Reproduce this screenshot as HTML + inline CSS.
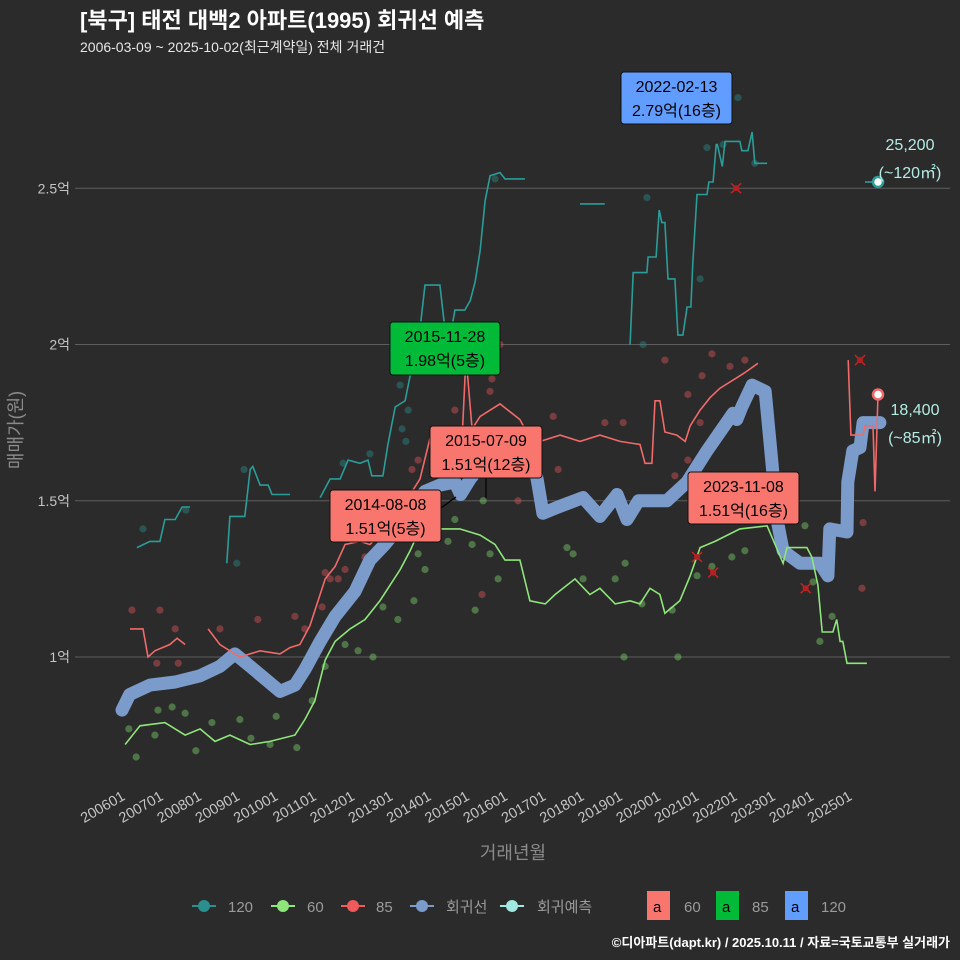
<!DOCTYPE html>
<html><head><meta charset="utf-8">
<style>
html,body{margin:0;padding:0;background:#2b2b2b;}
svg{display:block;font-family:"Liberation Sans","Noto Sans CJK KR",sans-serif;}
</style></head>
<body>
<svg id="chart" width="960" height="960" viewBox="0 0 960 960">
<rect width="960" height="960" fill="#2b2b2b"/>
<text x="80" y="28" font-size="22" font-weight="bold" fill="#ffffff">[북구] 태전 대백2 아파트(1995) 회귀선 예측</text>
<text x="80" y="52" font-size="14" fill="#e6e6e6">2006-03-09 ~ 2025-10-02(최근계약일) 전체 거래건</text>
<g id="grid"></g>
<g id="yticks"></g>
<g id="xticks"></g>
<text x="0" y="0" transform="translate(22,430) rotate(-90)" text-anchor="middle" font-size="18" fill="#8a8a8a">매매가(원)</text>
<text x="513" y="859" text-anchor="middle" font-size="18" fill="#8a8a8a">거래년월</text>
<g id="marks"></g>
<g id="annos"></g>
<g font-size="15" fill="#9a9a9a">
  <g><line x1="192" y1="906" x2="216" y2="906" stroke="#2a8f8f" stroke-width="2"/><circle cx="204" cy="906" r="6" fill="#2a8f8f"/><text x="228" y="912">120</text></g>
  <g><line x1="271" y1="906" x2="295" y2="906" stroke="#8ee67a" stroke-width="2"/><circle cx="283" cy="906" r="6" fill="#8ee67a"/><text x="307" y="912">60</text></g>
  <g><line x1="341" y1="906" x2="365" y2="906" stroke="#f05a5a" stroke-width="2"/><circle cx="353" cy="906" r="6" fill="#f05a5a"/><text x="376" y="912">85</text></g>
  <g><line x1="410" y1="906" x2="434" y2="906" stroke="#7b9bcb" stroke-width="2"/><circle cx="422" cy="906" r="6" fill="#7b9bcb"/><text x="446" y="912">회귀선</text></g>
  <g><line x1="500" y1="906" x2="524" y2="906" stroke="#a0e8e0" stroke-width="2"/><circle cx="512" cy="906" r="6" fill="#a0e8e0"/><text x="537" y="912">회귀예측</text></g>
  <g><rect x="647" y="891" width="23" height="29" fill="#f8766d"/><text x="653" y="912" fill="#000">a</text><text x="684" y="912">60</text></g>
  <g><rect x="716" y="891" width="23" height="29" fill="#00ba38"/><text x="722" y="912" fill="#000">a</text><text x="752" y="912">85</text></g>
  <g><rect x="785" y="891" width="23" height="29" fill="#619cff"/><text x="791" y="912" fill="#000">a</text><text x="821" y="912">120</text></g>
</g>
<text x="950" y="947" text-anchor="end" font-size="13" font-weight="bold" fill="#ffffff">©디아파트(dapt.kr) / 2025.10.11 / 자료=국토교통부 실거래가</text>
</svg>
<script>
const yTicks = [1, 1.5, 2, 2.5];
const yTickLabels = ["1억", "1.5억", "2억", "2.5억"];
const xTickYears = [2006,2007,2008,2009,2010,2011,2012,2013,2014,2015,2016,2017,2018,2019,2020,2021,2022,2023,2024,2025];
const xTickLabels = xTickYears.map(y => y + "01");

const regression = [[2006,0.83],[2006.2,0.88],[2006.73,0.91],[2007.39,0.92],[2008.04,0.94],[2008.56,0.97],[2008.95,1.01],[2009.35,0.97],[2009.74,0.93],[2010.13,0.89],[2010.52,0.91],[2010.78,0.96],[2011.18,1.05],[2011.57,1.13],[2012.09,1.21],[2012.48,1.31],[2012.87,1.36],[2013.27,1.42],[2013.66,1.49],[2013.92,1.53],[2014.31,1.55],[2014.7,1.56],[2014.85,1.52],[2015.1,1.57],[2015.36,1.61],[2015.88,1.65],[2016.4,1.63],[2016.79,1.6],[2016.85,1.57],[2017.0,1.46],[2017.4,1.48],[2018.05,1.51],[2018.49,1.45],[2018.94,1.52],[2019.2,1.44],[2019.5,1.5],[2019.8,1.50],[2020.24,1.50],[2020.77,1.56],[2021.29,1.66],[2021.97,1.78],[2022.07,1.76],[2022.2,1.80],[2022.47,1.87],[2022.81,1.85],[2022.99,1.62],[2023.12,1.44],[2023.28,1.34],[2023.72,1.30],[2024.24,1.30],[2024.45,1.26],[2024.5,1.41],[2024.95,1.40],[2024.97,1.56],[2025.1,1.66],[2025.29,1.67],[2025.37,1.75],[2025.81,1.75]];

const line60 = [[[2006.08,0.72],[2006.47,0.78],[2007.12,0.79],[2007.65,0.75],[2008.04,0.77],[2008.43,0.73],[2008.82,0.75],[2009.35,0.72],[2009.87,0.73],[2010.52,0.75],[2010.78,0.8],[2011.04,0.86],[2011.31,0.99],[2011.57,1.05],[2011.96,1.09],[2012.35,1.12],[2012.74,1.18],[2013.27,1.28],[2013.53,1.34],[2013.79,1.41],[2013.92,1.42],[2014.31,1.41],[2014.83,1.41],[2015.36,1.39],[2015.75,1.36],[2016.01,1.31],[2016.4,1.31],[2016.66,1.18],[2017.06,1.17],[2017.32,1.2],[2017.84,1.25],[2018.23,1.2],[2018.49,1.22],[2018.89,1.17],[2019.28,1.18],[2019.54,1.17],[2019.8,1.22],[2020.06,1.2],[2020.19,1.14],[2020.58,1.18],[2020.85,1.26],[2021.11,1.35],[2021.5,1.37],[2022.15,1.41],[2022.86,1.42],[2023.28,1.30],[2023.38,1.35],[2023.9,1.35],[2024.03,1.32],[2024.19,1.23],[2024.3,1.08],[2024.58,1.08],[2024.68,1.12],[2024.77,1.05],[2024.84,1.05],[2024.95,0.98],[2025.47,0.98]]];

const line85 = [
 [[2006.21,1.09],[2006.55,1.09],[2006.68,1.0],[2006.86,1.02],[2007.25,1.04],[2007.44,1.06],[2007.65,1.04]],
 [[2008.25,1.09],[2008.56,1.04],[2009.08,1.0],[2009.61,1.02],[2010.13,1.01],[2010.39,1.03],[2010.65,1.04],[2010.91,1.1],[2011.31,1.25],[2011.57,1.29],[2011.83,1.36],[2012.22,1.37],[2012.48,1.36],[2012.74,1.39],[2013.27,1.47],[2013.53,1.52],[2013.79,1.57],[2014.05,1.7],[2014.89,1.7],[2014.99,1.96],[2015.15,1.73],[2015.36,1.77],[2015.88,1.81],[2016.4,1.76],[2016.53,1.73],[2016.93,1.69],[2017.45,1.71],[2017.97,1.69],[2018.49,1.71],[2019.02,1.69],[2019.54,1.68],[2019.67,1.62],[2019.85,1.62],[2019.93,1.82],[2020.06,1.82],[2020.19,1.72],[2020.5,1.71],[2020.72,1.69],[2020.85,1.74],[2021.11,1.79],[2021.37,1.83],[2021.63,1.86],[2022.02,1.89],[2022.28,1.91],[2022.62,1.94]],
 [[2024.98,1.95],[2025.05,1.71],[2025.37,1.71],[2025.42,1.74],[2025.63,1.74],[2025.68,1.53],[2025.76,1.84]]
];

const line120 = [
 [[2006.39,1.35],[2006.73,1.37],[2006.99,1.37],[2007.12,1.44],[2007.39,1.44],[2007.57,1.48],[2007.78,1.48]],
 [[2008.74,1.3],[2008.82,1.45],[2009.21,1.45],[2009.35,1.6],[2009.42,1.61],[2009.61,1.55],[2009.82,1.55],[2009.92,1.52],[2010.39,1.52]],
 [[2011.18,1.51],[2011.44,1.57],[2011.7,1.57],[2011.91,1.63],[2012.22,1.62],[2012.43,1.63],[2012.53,1.58],[2012.82,1.58],[2012.95,1.68],[2013.14,1.8],[2013.4,1.82],[2013.58,1.93],[2013.79,2.05],[2013.92,2.19],[2014.31,2.19],[2014.44,2.05],[2014.57,2.02],[2014.7,2.11],[2014.96,2.11],[2015.1,2.14],[2015.23,2.2],[2015.36,2.3],[2015.49,2.46],[2015.62,2.54],[2015.88,2.55],[2016.01,2.53],[2016.53,2.53]],
 [[2017.97,2.45],[2018.62,2.45]],
 [[2019.28,2.0],[2019.36,2.23],[2019.72,2.23],[2019.75,2.28],[2019.96,2.28],[2020.04,2.43],[2020.11,2.39],[2020.19,2.39],[2020.27,2.21],[2020.45,2.21],[2020.53,2.03],[2020.66,2.03],[2020.77,2.12],[2020.87,2.12],[2020.92,2.26],[2021.03,2.48],[2021.29,2.48],[2021.34,2.52],[2021.45,2.52],[2021.53,2.64],[2021.56,2.64],[2021.69,2.57],[2021.76,2.65],[2022.15,2.65],[2022.2,2.62],[2022.36,2.62],[2022.47,2.68],[2022.54,2.58],[2022.86,2.58]],
 [[2025.42,2.52],[2025.76,2.52]]
];

const dots60 = [[2006.18,0.77],[2006.37,0.68],[2006.86,0.75],[2006.94,0.83],[2007.31,0.84],[2007.65,0.82],[2007.93,0.7],[2008.35,0.79],[2009.08,0.8],[2009.37,0.74],[2009.87,0.72],[2010.03,0.81],[2010.57,0.71],[2010.97,0.86],[2011.31,0.97],[2011.83,1.04],[2012.17,1.02],[2012.56,1.0],[2012.82,1.16],[2013.21,1.12],[2013.63,1.18],[2013.74,1.33],[2013.92,1.28],[2014.52,1.37],[2014.7,1.44],[2015.15,1.36],[2015.23,1.15],[2015.44,1.5],[2015.62,1.33],[2015.83,1.25],[2017.63,1.35],[2017.79,1.33],[2018.05,1.25],[2018.89,1.25],[2019.15,1.3],[2019.59,1.17],[2019.12,1.0],[2020.53,1.0],[2020.38,1.15],[2021.03,1.26],[2021.42,1.29],[2021.94,1.32],[2022.28,1.34],[2023.51,1.45],[2023.85,1.42],[2024.06,1.24],[2024.56,1.13],[2024.3,1.28],[2024.24,1.05]];
const dots85 = [[2006.26,1.15],[2006.99,1.15],[2007.39,1.09],[2006.91,0.98],[2007.47,0.98],[2008.56,1.09],[2009.55,1.12],[2010.52,1.13],[2010.78,1.09],[2011.23,1.16],[2011.44,1.25],[2011.31,1.27],[2011.65,1.25],[2011.83,1.28],[2012.35,1.32],[2013.58,1.6],[2013.74,1.63],[2014.31,1.69],[2014.7,1.79],[2015.62,1.85],[2015.67,1.89],[2015.88,2.0],[2015.41,1.2],[2017.27,1.77],[2018.62,1.75],[2019.1,1.75],[2020.19,1.95],[2020.79,1.84],[2021.16,1.90],[2021.42,1.97],[2022.28,1.95],[2021.89,1.93],[2021.11,1.75],[2020.79,1.63],[2020.45,1.58],[2017.4,1.60],[2016.35,1.50],[2025.37,1.43],[2025.34,1.22]];
const dots120 = [[2006.55,1.41],[2007.67,1.47],[2009.0,1.3],[2009.19,1.6],[2011.78,1.62],[2012.48,1.65],[2013.42,1.69],[2013.27,1.87],[2013.48,1.79],[2013.32,1.73],[2015.17,2.01],[2015.75,2.53],[2019.72,2.47],[2021.11,2.21],[2021.29,2.63],[2021.71,2.64],[2022.1,2.79],[2019.62,2.0],[2022.54,2.58]];
const cancelled = [[2022.05,2.5],[2021.03,1.32],[2021.45,1.27],[2023.87,1.22],[2025.29,1.95]];

const X = yr => 122 + (yr - 2006) * 38.26;
const Y = v => 657 - (v - 1) * 312.5;
const NS = "http://www.w3.org/2000/svg";
function mk(tag, attrs, parent) {
  const e = document.createElementNS(NS, tag);
  for (const k in attrs) e.setAttribute(k, attrs[k]);
  parent.appendChild(e);
  return e;
}
const grid = document.getElementById("grid");
const yt = document.getElementById("yticks");
yTicks.forEach((v, i) => {
  const l = mk("line", {x1: 75, x2: 950, y1: Y(v), y2: Y(v), stroke: "#5e5e5e", "stroke-width": 1}, grid);
  
  
  const t = mk("text", {x: 70, y: Y(v) + 5, "text-anchor": "end", "font-size": 14, fill: "#c4c4c4"}, yt);
  t.textContent = yTickLabels[i];
  
  
});
const xt = document.getElementById("xticks");
xTickYears.forEach((yr, i) => {
  const t = mk("text", {x: 0, y: 0, "text-anchor": "end", "font-size": 14.5, fill: "#c4c4c4", transform: `translate(${X(yr) + 4},${799}) rotate(-30)`}, xt);
  t.textContent = xTickLabels[i];
  
  
});
const marks = document.getElementById("marks");
const pts = a => a.map(p => X(p[0]).toFixed(1) + "," + Y(p[1]).toFixed(1)).join(" ");
function drawDots(arr, color, name) {
  arr.forEach(p => {
    const c = mk("circle", {cx: X(p[0]), cy: Y(p[1]), r: 3.6, fill: color, "fill-opacity": 0.45}, marks);
    
    
  });
}
drawDots(dots60, "#7ccf6a", "dot-60");
drawDots(dots85, "#d9545a", "dot-85");
drawDots(dots120, "#2a8a86", "dot-120");
const reg = mk("polyline", {points: pts(regression), fill: "none", stroke: "#7b9bcb", "stroke-width": 13, "stroke-linejoin": "round", "stroke-linecap": "round"}, marks);


function drawLines(segs, color, name) {
  segs.forEach(s => {
    const l = mk("polyline", {points: pts(s), fill: "none", stroke: color, "stroke-width": 1.6}, marks);
    
    
  });
}
drawLines(line120, "#2a9d98", "line-120");
drawLines(line85, "#f06a6a", "line-85");
drawLines(line60, "#8ee67a", "line-60");
cancelled.forEach(p => {
  const g = mk("g", {}, marks);
  
  
  const x = X(p[0]), y = Y(p[1]);
  mk("path", {d: `M${x-5},${y-5}L${x+5},${y+5}M${x+5},${y-5}L${x-5},${y+5}`, stroke: "#cc2222", "stroke-width": 1.5}, g);
  mk("circle", {cx: x, cy: y, r: 3, fill: "#b22222"}, g);
});
const last120 = line120[line120.length-1];
const e1 = mk("circle", {cx: X(last120[last120.length-1][0]), cy: Y(last120[last120.length-1][1]), r: 5, fill: "#ffffff", stroke: "#2a9d98", "stroke-width": 2.5}, marks);


const last85 = line85[line85.length-1];
const e2 = mk("circle", {cx: X(last85[last85.length-1][0]), cy: Y(last85[last85.length-1][1]), r: 5, fill: "#ffffff", stroke: "#f06a6a", "stroke-width": 2.5}, marks);



const annos = document.getElementById("annos");
function box(x, y, w, h, fill, l1, l2, name) {
  const g = mk("g", {}, annos);
  
  
  mk("rect", {x, y, width: w, height: h, rx: 3, fill, stroke: "#111", "stroke-width": 1}, g);
  const t1 = mk("text", {x: x + w/2, y: y + 20, "text-anchor": "middle", "font-size": 16, fill: "#000"}, g);
  t1.textContent = l1;
  const t2 = mk("text", {x: x + w/2, y: y + 44, "text-anchor": "middle", "font-size": 16, fill: "#000"}, g);
  t2.textContent = l2;
}
mk("line", {x1: 441, y1: 508, x2: 456, y2: 497, stroke: "#000", "stroke-width": 1.2}, annos);
mk("line", {x1: 486, y1: 478, x2: 486, y2: 498, stroke: "#000", "stroke-width": 1.2}, annos);
box(390, 322, 110, 53, "#00ba38", "2015-11-28", "1.98억(5층)", "annotation-max-85");
box(430, 426, 112, 52, "#f8766d", "2015-07-09", "1.51억(12층)", "annotation-2015-07-09");
box(330, 490, 111, 52, "#f8766d", "2014-08-08", "1.51억(5층)", "annotation-2014-08-08");
box(688, 472, 111, 52, "#f8766d", "2023-11-08", "1.51억(16층)", "annotation-2023-11-08");
box(621, 72, 111, 52, "#619cff", "2022-02-13", "2.79억(16층)", "annotation-max-120");
const lbl = [[910, 150, "25,200"], [910, 178, "(~120㎡)"], [915, 415, "18,400"], [915, 443, "(~85㎡)"]];
lbl.forEach(a => {
  const t = mk("text", {x: a[0], y: a[1], "text-anchor": "middle", "font-size": 16, fill: "#b4ece4"}, annos);
  t.textContent = a[2];
  
  
});
</script>
</body></html>
